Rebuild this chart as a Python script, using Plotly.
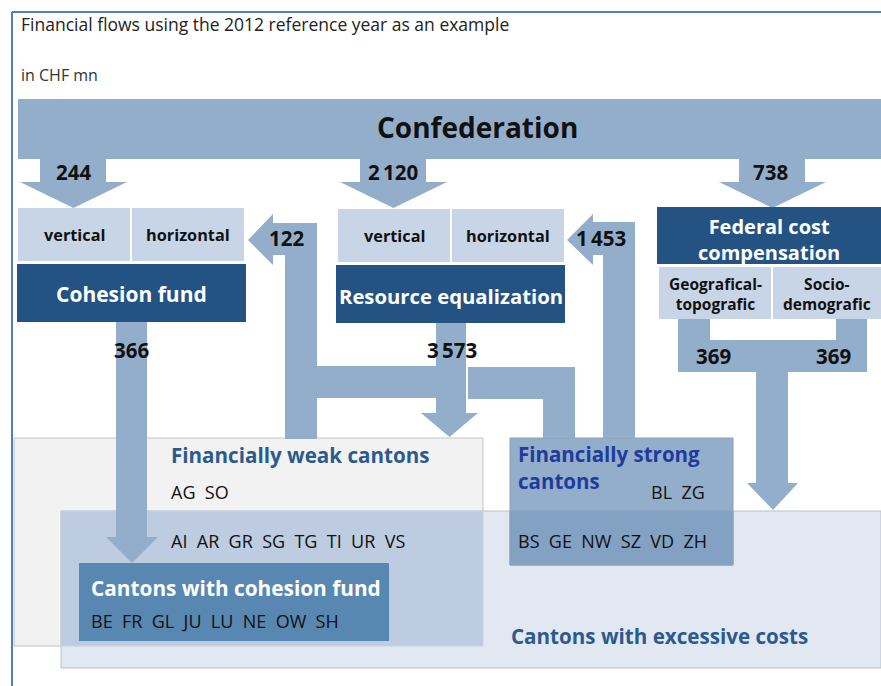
import plotly.graph_objects as go

# flow amounts in CHF mn
flow_names = ["conf_cohesion", "conf_resource", "conf_fcc", "weak_cohesion",
              "strong_resource", "cohesion_out", "resource_out", "fcc_geo", "fcc_socio"]
flow_values = [244, 2120, 738, 122, 1453, 366, 3573, 369, 369]

# canton groups
weak_only = ["AG", "SO"]
weak_excess = ["AI", "AR", "GR", "SG", "TG", "TI", "UR", "VS"]
cohesion_cantons = ["BE", "FR", "GL", "JU", "LU", "NE", "OW", "SH"]
strong_only = ["BL", "ZG"]
strong_excess = ["BS", "GE", "NW", "SZ", "VD", "ZH"]

FONT = "Open Sans"
ARROW = "#93aecb"
DARK = "#245383"
LIGHT = "#c8d5e6"
TXT = "#111111"

fv = dict(zip(flow_names, flow_values))


def fmt(v):
    return f"{v:,}".replace(",", "\u2009")


def join(codes):
    return "\u00a0\u00a0".join(codes)


fig = go.Figure()


def poly(pts, color=ARROW):
    path = "M " + " L ".join(f"{x},{y}" for x, y in pts) + " Z"
    fig.add_shape(type="path", path=path, fillcolor=color, line=dict(width=0))


def rect(x0, y0, x1, y1, color, line_color=None, lw=0):
    fig.add_shape(type="rect", x0=x0, y0=y0, x1=x1, y1=y1, fillcolor=color,
                  line=dict(width=lw, color=line_color or color))


def down_arrow(sx0, sx1, y0, hy, hx0, hx1, tip):
    mid = (hx0 + hx1) / 2
    poly([(sx0, y0), (sx1, y0), (sx1, hy), (hx1, hy), (mid, tip), (hx0, hy), (sx0, hy)])


def text(x, y, s, size, color=TXT, bold=True, xanchor="center"):
    if bold:
        s = f"<b>{s}</b>"
    fig.add_annotation(x=x, y=y, text=s, showarrow=False, xanchor=xanchor, yanchor="middle",
                       align=xanchor if xanchor != "center" else "center",
                       font=dict(family=FONT, size=size, color=color))


# frame lines
fig.add_shape(type="line", x0=12, y0=12, x1=881, y1=12, line=dict(color="#4f7fbd", width=2))
fig.add_shape(type="line", x0=12, y0=12, x1=12, y1=686, line=dict(color="#4f7fbd", width=2))

# bottom canton areas
rect(14, 438, 483, 646, "#f2f2f2", "#c4c4c4", 1)
rect(61, 511, 881, 668, "#e1e8f1", "#b9c1cb", 1)
rect(61, 511, 483, 646, "#bdcce0", "#c8d1dc", 1)
rect(510, 438, 733, 565, "#92aecb", "#8c9fb6", 1)
rect(510, 511, 733, 565, "#82a1c3", "#8c9fb6", 1)
rect(79, 563, 389, 641, "#5888b1")

# confederation bar
rect(18, 99, 881, 159, ARROW)

# arrows from confederation
down_arrow(40, 106, 159, 182, 20, 127, 208)
down_arrow(360, 426, 159, 182, 340, 447, 208)
down_arrow(739, 805, 159, 182, 719, 826, 208)

# boxes
rect(18, 208, 130, 261, LIGHT)
rect(132, 208, 244, 261, LIGHT)
rect(17, 264, 246, 322, DARK)
rect(338, 209, 450, 262, LIGHT)
rect(452, 209, 564, 262, LIGHT)
rect(336, 265, 565, 323, DARK)
rect(657, 207, 881, 264, DARK)
rect(659, 267, 771, 319, LIGHT)
rect(773, 267, 881, 319, LIGHT)

# 122: weak cantons -> cohesion fund
poly([(285, 439), (285, 255), (273, 255), (273, 265), (248, 240), (273, 214),
      (273, 223), (317, 223), (317, 366), (436, 366), (436, 398), (317, 398), (317, 439)])
# 3573 resource equalization -> weak cantons
down_arrow(436, 466, 323, 413, 421, 478, 437)
# strong cantons -> resource equalization
poly([(468, 367), (575, 367), (575, 438), (543, 438), (543, 399), (468, 399)])
# 1453
poly([(603, 438), (603, 255), (593, 255), (593, 265), (567, 240), (593, 214),
      (593, 222), (635, 222), (635, 438)])
# 366 cohesion fund -> cohesion cantons
down_arrow(116, 147, 322, 537, 106, 158, 563)
# federal cost compensation
poly([(678, 319), (710, 319), (710, 340), (836, 340), (836, 319), (867, 319), (867, 372),
      (788, 372), (788, 483), (798, 483), (773, 510), (747, 483), (756, 483), (756, 372),
      (678, 372)])

# titles
text(19, 24, "Financial flows using the 2012 reference year as an example", 17.5, "#222222", False, "left")
text(19, 75, "in CHF mn", 16, "#333333", False, "left")
text(477, 127, "Confederation", 28)

# flow labels
text(73, 172, fmt(fv["conf_cohesion"]), 20.5)
text(393, 172, fmt(fv["conf_resource"]), 20.5)
text(770, 172, fmt(fv["conf_fcc"]), 20.5)
text(286, 238, fmt(fv["weak_cohesion"]), 20.5)
text(601, 238, fmt(fv["strong_resource"]), 20.5)
text(131, 350, fmt(fv["cohesion_out"]), 20.5)
text(452, 350, fmt(fv["resource_out"]), 20.5)
text(713, 356, fmt(fv["fcc_geo"]), 20.5)
text(833, 356, fmt(fv["fcc_socio"]), 20.5)

# box labels
text(74, 235, "vertical", 16.3)
text(188, 235, "horizontal", 16.3)
text(131, 294, "Cohesion fund", 21)
fig.layout.annotations[-1].font.color = "white"
text(394, 236, "vertical", 16.3)
text(508, 236, "horizontal", 16.3)
text(451, 296, "Resource equalization", 20.3, "white")
text(769, 239, "Federal cost<br>compensation", 20, "white")
text(715, 294, "Geografical-<br>topografic", 15.5)
text(827, 294, "Socio-<br>demografic", 15.5)

# canton groups
text(169, 455, "Financially weak cantons", 20.6, "#2b5a8f", True, "left")
text(169, 492, join(weak_only), 18, TXT, False, "left")
text(169, 541, join(weak_excess), 18, TXT, False, "left")
text(89, 588, "Cantons with cohesion fund", 20.8, "white", True, "left")
text(89, 621, join(cohesion_cantons), 18, TXT, False, "left")
text(516, 467, "Financially strong<br>cantons", 20.5, "#1f3c9c", True, "left")
text(649, 492, join(strong_only), 18, TXT, False, "left")
text(516, 541, join(strong_excess), 18, TXT, False, "left")
text(509, 636, "Cantons with excessive costs", 20.6, "#2b5a8f", True, "left")

fig.update_layout(
    width=881, height=686,
    margin=dict(l=0, r=0, t=0, b=0),
    paper_bgcolor="white", plot_bgcolor="white",
    xaxis=dict(range=[0, 881], visible=False, fixedrange=True),
    yaxis=dict(range=[686, 0], visible=False, fixedrange=True),
    showlegend=False,
)
fig.write_html("out.html", config={"displayModeBar": False},
               post_script="document.body.style.margin='0px';document.body.style.overflow='hidden';")
